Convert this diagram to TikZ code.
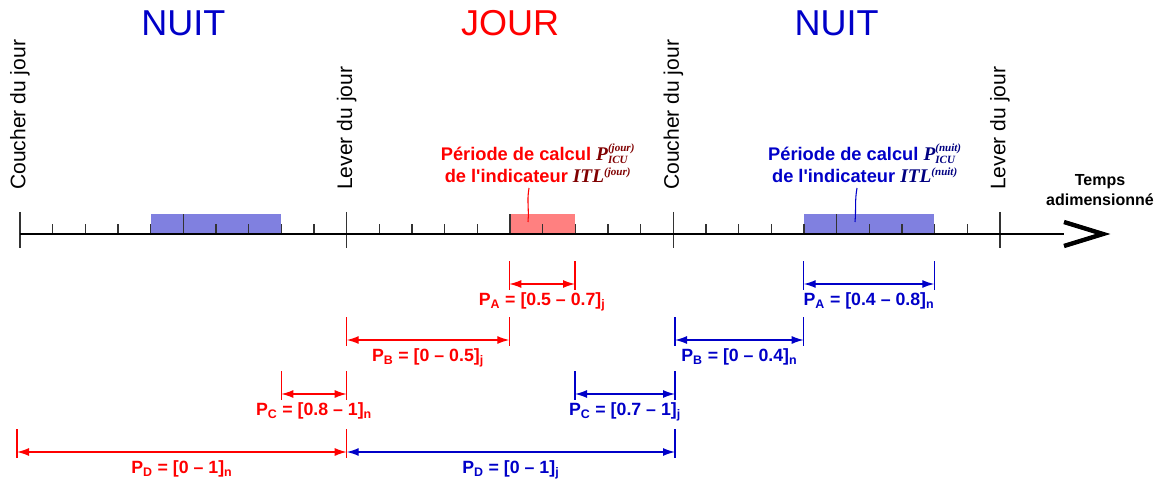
\documentclass[tikz,border=0pt]{standalone}
\usepackage{fontspec}
\setmainfont{Liberation Sans}[Ligatures=TeXOff]
\newfontfamily\timesit{Liberation Serif}
\usepackage{tikz}
\usetikzlibrary{arrows.meta, positioning, calc}
\definecolor{jourred}{RGB}{255,0,0}
\definecolor{jourdark}{RGB}{128,0,0}
\definecolor{jourfill}{RGB}{255,128,128}
\definecolor{nuitblue}{RGB}{0,0,200}
\definecolor{nuitdark}{RGB}{0,0,128}
\definecolor{nuitfill}{RGB}{128,128,224}
\newcommand{\scr}[1]{\mbox{\timesit\bfseries\itshape\fontsize{8.3}{9}\selectfont #1}}
\newcommand{\per}[1]{{\timesit\bfseries\itshape\fontsize{14.5}{16.5}\selectfont P$^{\scr{(#1)}}_{\scr{ICU}}$}}
\newcommand{\itl}[1]{{\timesit\bfseries\itshape\fontsize{14.5}{16.5}\selectfont ITL$^{\scr{(#1)}}$}}

\begin{document}
\begin{tikzpicture}[x=0.75pt, y=-0.75pt, >={Latex[length=9pt, width=6pt]},
    event/.style={rotate=90, anchor=west, inner sep=0pt, font=\fontsize{15.8}{18}\selectfont},
    season/.style={font=\fontsize{27}{30}\selectfont},
    period/.style={align=center, font=\bfseries\fontsize{13.7}{16.5}\selectfont},
    dimlabel/.style={below=3pt, font=\bfseries\fontsize{13.3}{16}\selectfont},
    dimred/.style={<->, jourred, line width=1pt},
    dimblue/.style={<->, nuitblue, line width=1pt},
    tickline/.style={line width=1.2pt, black!80}]
    \useasboundingbox (0,0) rectangle (1160,481);

    \node[season, text=nuitblue] (nuit1) at (183.3,23.5) {NUIT};
    \node[season, text=jourred] (jour) at (510,23.5) {JOUR};
    \node[season, text=nuitblue] (nuit2) at (836.7,23.5) {NUIT};

    \coordinate (c1) at (20,234);
    \coordinate (l1) at (346.7,234);
    \coordinate (c2) at (673.3,234);
    \coordinate (l2) at (1000,234);
    \coordinate (axend) at (1064,234);

    \node[event] (coucher1) at (20,190) {Coucher du jour};
    \node[event] (lever1) at (346.7,190) {Lever du jour};
    \node[event] (coucher2) at (673.3,190) {Coucher du jour};
    \node[event] (lever2) at (1000,190) {Lever du jour};

    \fill[nuitfill] (150.7,214) rectangle (281.3,234);
    \fill[jourfill] (509.3,214) rectangle (575,234);
    \fill[nuitfill] (803.7,214) rectangle (934.3,234);

    \foreach \k in {0,1,2} {
        \foreach \i in {1,...,9} {
            \pgfmathsetmacro{\tx}{20+326.67*(\k+\i/10)}
            \ifnum\i=5
                \draw[tickline] (\tx,214) -- (\tx,234);
            \else
                \draw[tickline] (\tx,224) -- (\tx,234);
            \fi
        }
    }
    \foreach \k in {0,...,3}
        \draw[tickline] (20+326.67*\k,212) -- ++(0,36);

    \draw[line width=1.2pt] (c1) -- (axend);
    \coordinate (chevtop) at (1064,222);
    \coordinate (chevtip) at (1103,234);
    \coordinate (chevbot) at (1064,246);
    \draw[line width=3.3pt, line join=miter, miter limit=25] (chevtop) -- (chevtip) -- (chevbot);

    \node[font=\bfseries\fontsize{12}{15}\selectfont, align=center] (temps) at (1100,190) {Temps\\adimensionné};

    \node[period, text=jourred] (pjour) at (538,163)
        {Période de calcul {\color{jourdark}\per{jour}}\\de l'indicateur {\color{jourdark}\itl{jour}}};
    \node[period, text=nuitblue] (pnuit) at (865,163)
        {Période de calcul {\color{nuitdark}\per{nuit}}\\de l'indicateur {\color{nuitdark}\itl{nuit}}};
    \coordinate (pjs) at (529,188);
    \coordinate (pjt) at (528,222);
    \coordinate (pns) at (857,188);
    \coordinate (pnt) at (855,222);
    \draw[jourred, line width=0.8pt] (pjs) to[out=-100, in=85] (pjt);
    \draw[nuitblue, line width=0.8pt] (pns) to[out=-100, in=85] (pnt);

    \coordinate (ra1) at (509.3,284);
    \coordinate (ra2) at (575,284);
    \coordinate (ba1) at (803.7,284);
    \coordinate (ba2) at (934.3,284);
    \coordinate (rb1) at (346.7,340);
    \coordinate (rb2) at (509.3,340);
    \coordinate (bb1) at (675,340);
    \coordinate (bb2) at (803.7,340);
    \coordinate (rc1) at (281.3,394);
    \coordinate (rc2) at (346.7,394);
    \coordinate (bc1) at (575,394);
    \coordinate (bc2) at (675,394);
    \coordinate (rd1) at (17,452);
    \coordinate (rd2) at (346.7,452);
    \coordinate (bd1) at (346.7,452);
    \coordinate (bd2) at (675,452);

    \draw[dimred] (ra1) -- node[dimlabel, text=jourred] {P\textsubscript{A} = [0.5 – 0.7]\textsubscript{j}} (ra2);
    \draw[dimblue] (ba1) -- node[dimlabel, text=nuitblue] {P\textsubscript{A} = [0.4 – 0.8]\textsubscript{n}} (ba2);
    \draw[dimred] (rb1) -- node[dimlabel, text=jourred] {P\textsubscript{B} = [0 – 0.5]\textsubscript{j}} (rb2);
    \draw[dimblue] (bb1) -- node[dimlabel, text=nuitblue] {P\textsubscript{B} = [0 – 0.4]\textsubscript{n}} (bb2);
    \draw[dimred] (rc1) -- node[dimlabel, text=jourred] {P\textsubscript{C} = [0.8 – 1]\textsubscript{n}} (rc2);
    \draw[dimblue] (bc1) -- node[dimlabel, text=nuitblue] {P\textsubscript{C} = [0.7 – 1]\textsubscript{j}} (bc2);
    \draw[dimblue] (bd1) -- node[dimlabel, text=nuitblue] {P\textsubscript{D} = [0 – 1]\textsubscript{j}} (bd2);
    \draw[dimred] (rd1) -- node[dimlabel, text=jourred] {P\textsubscript{D} = [0 – 1]\textsubscript{n}} (rd2);

    \foreach \p in {ba1,ba2,bb1,bb2,bc1,bc2,bd1,bd2}
        \draw[nuitblue, line width=1pt] (\p) ++(0,-23) -- ++(0,29);
    \foreach \p in {ra1,ra2,rb1,rb2,rc1,rc2,rd1,rd2}
        \draw[jourred, line width=1pt] (\p) ++(0,-23) -- ++(0,29);
\end{tikzpicture}
\end{document}
